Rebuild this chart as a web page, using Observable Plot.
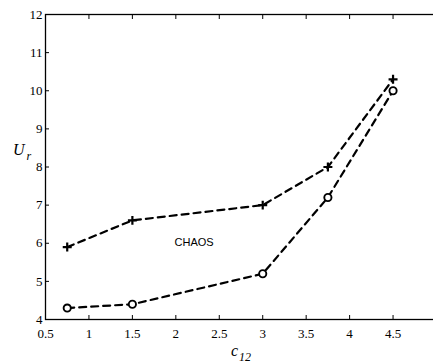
<!DOCTYPE html>
<html><head><meta charset="utf-8">
<script src="https://cdn.jsdelivr.net/npm/d3@7"></script>
<script src="https://cdn.jsdelivr.net/npm/@observablehq/plot@0.6"></script>
<style>
html,body{margin:0;padding:0;background:#fff;overflow:hidden;width:433px;height:363px;}
svg{display:block;max-width:none !important;}
svg text{font-family:'Liberation Serif','Times New Roman',Times,serif;}
svg text.sans{font-family:'Liberation Sans',Arial,sans-serif;}
</style></head><body>
<div id="chart"></div>
<script>
const c12 = [0.75, 1.5, 3, 3.75, 4.5];
const upperUr = [5.9, 6.6, 7.0, 8.0, 10.3];
const lowerUr = [4.3, 4.4, 5.2, 7.2, 10.0];
const xTicks = [0.5, 1, 1.5, 2, 2.5, 3, 3.5, 4, 4.5, 5];
const xTickLabels = ["0.5","1","1.5","2","2.5","3","3.5","4","4.5",""];
const yTicks = [4, 5, 6, 7, 8, 9, 10, 11, 12];
const annotation = [{x: 2.21, y: 6.02, label: "CHAOS"}];

const upper = c12.map((x, i) => ({x, y: upperUr[i]}));
const lower = c12.map((x, i) => ({x, y: lowerUr[i]}));

const font = "'Liberation Serif','Times New Roman',Times,serif";
const chart = Plot.plot({
  width: 437,
  height: 363,
  marginTop: 14,
  marginBottom: 44,
  marginLeft: 45,
  marginRight: 1,
  style: {fontFamily: font, fontSize: "13px", background: "#fff", color: "#000", overflow: "visible", maxWidth: "none"},
  x: {domain: [0.5, 5]},
  y: {domain: [4, 12]},
  marks: [
    Plot.frame({stroke: "#000", strokeWidth: 1.3}),
    Plot.axisX({anchor: "bottom", ticks: xTicks, tickSize: 0, tickPadding: 9, tickFormat: (d) => xTickLabels[xTicks.indexOf(d)], label: null, fontSize: 13}),
    Plot.axisX({anchor: "bottom", ticks: xTicks, tickSize: -4, text: null, label: null}),
    Plot.axisX({anchor: "top", ticks: xTicks, tickSize: -4, text: null, label: null}),
    Plot.axisY({anchor: "left", ticks: yTicks, tickSize: 0, tickPadding: 3, label: null, fontSize: 13}),
    Plot.axisY({anchor: "left", ticks: yTicks, tickSize: -4, text: null, label: null}),
    Plot.axisY({anchor: "right", ticks: yTicks, tickSize: -4, text: null, label: null}),
    Plot.line(upper, {x: "x", y: "y", stroke: "#000", strokeWidth: 2.2, strokeDasharray: "7,5"}),
    Plot.line(lower, {x: "x", y: "y", stroke: "#000", strokeWidth: 2.2, strokeDasharray: "7,5"}),
    Plot.dot(upper, {x: "x", y: "y", symbol: "plus", r: 3, stroke: "#000", strokeWidth: 2.2}),
    Plot.dot(lower, {x: "x", y: "y", symbol: "circle", r: 3.6, stroke: "#000", strokeWidth: 1.9, fill: "#fff"}),
    Plot.text(annotation, {x: "x", y: "y", text: "label", fontSize: 11, fill: "#000", className: "sans"})
  ]
});
const svg = d3.select(chart);
svg.selectAll("g[aria-label=text] text").attr("class", "sans");
const yl = svg.append("text").attr("x", 13).attr("y", 155).attr("text-anchor", "start").attr("font-style", "italic").attr("font-size", 16).attr("fill", "#000");
yl.append("tspan").text("U");
yl.append("tspan").attr("dx", 2).attr("dy", 5).attr("font-size", 12).text("r");
const xl = svg.append("text").attr("x", 231).attr("y", 356).attr("text-anchor", "start").attr("font-style", "italic").attr("font-size", 16).attr("fill", "#000");
xl.append("tspan").text("c");
xl.append("tspan").attr("dx", 1).attr("dy", 5).attr("font-size", 12).text("12");
document.getElementById("chart").appendChild(chart);
</script>
</body></html>
